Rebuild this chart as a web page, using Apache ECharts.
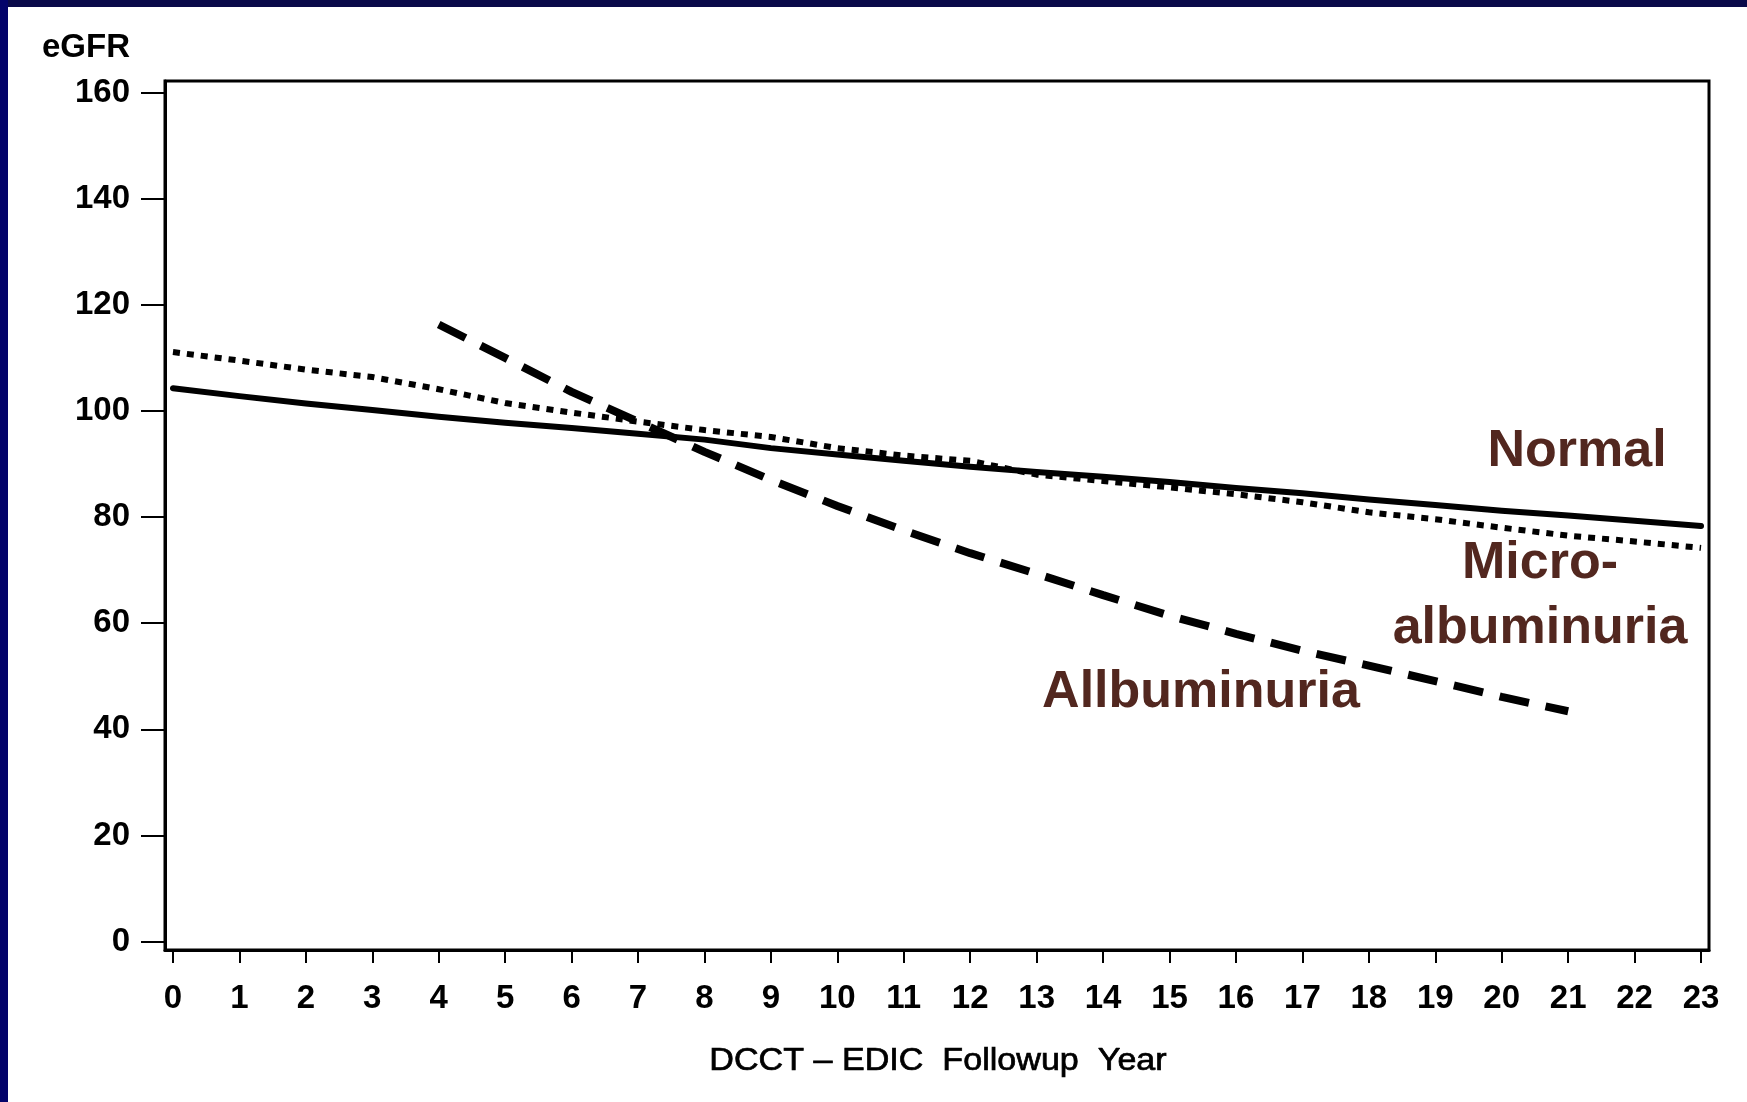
<!DOCTYPE html>
<html>
<head>
<meta charset="utf-8">
<title>eGFR by DCCT-EDIC Followup Year</title>
<script src="https://cdn.jsdelivr.net/npm/echarts@6/dist/echarts.min.js"></script>
<style>
  html, body { margin: 0; padding: 0; background: #ffffff; }
  #chart { width: 1747px; height: 1102px; }
</style>
</head>
<body>
<div id="chart"></div>
<script>
// Followup years and tick values
const years = [0,1,2,3,4,5,6,7,8,9,10,11,12,13,14,15,16,17,18,19,20,21,22,23];
const yTicks = [0,20,40,60,80,100,120,140,160];

// eGFR trajectories
const normal = [104.3,102.8,101.4,100.2,98.9,97.8,96.8,95.7,94.6,93.0,91.8,90.6,
                89.5,88.5,87.6,86.6,85.5,84.5,83.3,82.3,81.2,80.3,79.3,78.3];
const micro = [111.1,109.5,107.8,106.4,104.1,101.5,99.7,98.0,96.4,95.1,93.0,91.6,
               90.6,88.0,86.8,85.6,84.3,82.8,80.9,79.6,78.0,76.5,75.4,74.2];
const albYears = [4,5,6,7,8,9,10,11,12,13,14,15,16,17,18,19,20,21];
const alb = [116.3,110.0,103.6,98.0,92.3,87.0,82.1,77.5,73.2,69.3,65.3,61.4,
             58.0,54.8,52.0,49.1,46.1,43.4];

const pairs = (xs, ys) => xs.map((x, i) => [x, ys[i]]);

const FONT = '"Liberation Sans", Arial, Helvetica, sans-serif';
const BROWN = '#52271f';

const chart = echarts.init(document.getElementById('chart'), null, { renderer: 'canvas' });

chart.setOption({
  animation: false,
  backgroundColor: '#ffffff',
  grid: {
    left: 165, right: 38, top: 81, bottom: 152,
    show: true, borderColor: '#000000', borderWidth: 3, backgroundColor: '#ffffff'
  },
  xAxis: {
    type: 'value',
    min: -0.12, max: 23.12,
    axisLine: { show: true, onZero: false, lineStyle: { color: '#000', width: 3 } },
    axisTick: { show: true, length: 13, customValues: years, lineStyle: { color: '#000', width: 2 } },
    axisLabel: {
      customValues: years, margin: 32,
      fontFamily: FONT, fontWeight: 'bold', fontSize: 33, color: '#000'
    },
    splitLine: { show: false }
  },
  yAxis: {
    type: 'value',
    min: -1.6, max: 162.2,
    axisLine: { show: true, onZero: false, lineStyle: { color: '#000', width: 3 } },
    axisTick: { show: true, length: 24, customValues: yTicks, lineStyle: { color: '#000', width: 2 } },
    axisLabel: {
      customValues: yTicks, margin: 35,
      fontFamily: FONT, fontWeight: 'bold', fontSize: 33, color: '#000'
    },
    splitLine: { show: false }
  },
  series: [
    {
      name: 'Normal', type: 'line', showSymbol: false, symbol: 'none',
      data: pairs(years, normal),
      lineStyle: { color: '#000', width: 6, cap: 'round', join: 'round' }
    },
    {
      name: 'Microalbuminuria', type: 'line', showSymbol: false, symbol: 'none',
      data: pairs(years, micro),
      lineStyle: { color: '#000', width: 6, type: [7, 7], cap: 'butt' }
    },
    {
      name: 'Albuminuria', type: 'line', showSymbol: false, symbol: 'none',
      data: pairs(albYears, alb),
      lineStyle: { color: '#000', width: 8, type: [30, 17], cap: 'butt' }
    }
  ],
  graphic: [
    // navy frame strips along the top and left edges
    { type: 'rect', left: 0, top: 0, shape: { width: 1747, height: 7 }, style: { fill: '#0a0a4a' }, z: 100 },
    { type: 'rect', left: 0, top: 0, shape: { width: 8, height: 1102 }, style: { fill: '#03036a' }, z: 100 },
    {
      type: 'text', x: 42, y: 48,
      style: { text: 'eGFR', font: 'bold 33px ' + FONT, fill: '#000', textAlign: 'left', textVerticalAlign: 'middle' }
    },
    {
      type: 'text', x: 938, y: 1061, scaleX: 1.1, originX: 0, originY: 0,
      style: {
        text: 'DCCT – EDIC  Followup  Year', font: '31px ' + FONT, fill: '#000',
        stroke: '#000', lineWidth: 0.7, textAlign: 'center', textVerticalAlign: 'middle'
      }
    },
    {
      type: 'text', x: 1577, y: 452,
      style: { text: 'Normal', font: 'bold 52px ' + FONT, fill: BROWN, textAlign: 'center', textVerticalAlign: 'middle' }
    },
    {
      type: 'text', x: 1540, y: 564,
      style: { text: 'Micro-', font: 'bold 52px ' + FONT, fill: BROWN, textAlign: 'center', textVerticalAlign: 'middle' }
    },
    {
      type: 'text', x: 1540, y: 629,
      style: { text: 'albuminuria', font: 'bold 52px ' + FONT, fill: BROWN, textAlign: 'center', textVerticalAlign: 'middle' }
    },
    {
      type: 'text', x: 1201, y: 693,
      style: { text: 'Allbuminuria', font: 'bold 52px ' + FONT, fill: BROWN, textAlign: 'center', textVerticalAlign: 'middle' }
    }
  ]
});
</script>
</body>
</html>
